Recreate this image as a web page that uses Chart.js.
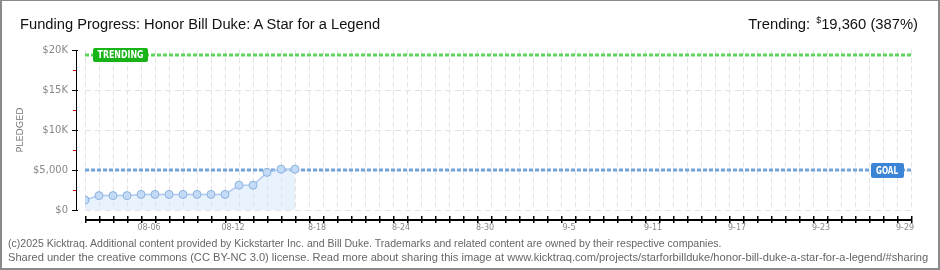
<!DOCTYPE html>
<html>
<head>
<meta charset="utf-8">
<script src="https://cdn.jsdelivr.net/npm/chart.js@4.4.1/dist/chart.umd.min.js"></script>
<style>
  html, body { margin:0; padding:0; background:#fff; }
  #wrap { position:relative; width:940px; height:270px; overflow:hidden; background:#fff; }
  #c { position:absolute; left:0; top:0; }
  #frame { position:absolute; left:0; top:0; width:940px; height:270px; box-sizing:border-box;
           border-style:solid; border-color:#8a8a8a; border-width:1px 2px 2px 2px; pointer-events:none; }
  .t { position:absolute; white-space:nowrap; line-height:1; }
  #title { left:20px; top:17px; font-family:"Liberation Sans Narrow", sans-serif; font-size:16.5px; color:#111; }
  #trend { right:22px; top:17px; font-family:"Liberation Sans Narrow", sans-serif; font-size:16.5px; color:#111; }
  #trend sup { font-size:0.6em; vertical-align:0; position:relative; top:-6px; margin-left:6px; }
  .foot { left:8px; font-family:"Liberation Sans Narrow", sans-serif; font-size:11px; color:#666; }
  #f1 { top:238px; }
  #f2 { top:252px; }
</style>
</head>
<body>
<div id="wrap">
  <canvas id="c" width="940" height="270"></canvas>
  <div id="title" class="t">Funding Progress: Honor Bill Duke: A Star for a Legend</div>
  <div id="trend" class="t">Trending:<sup>$</sup>19,360 (387%)</div>
  <div id="f1" class="t foot">(c)2025 Kicktraq. Additional content provided by Kickstarter Inc. and Bill Duke. Trademarks and related content are owned by their respective companies.</div>
  <div id="f2" class="t foot">Shared under the creative commons (CC BY-NC 3.0) license. Read more about sharing this image at www.kicktraq.com/projects/starforbillduke/honor-bill-duke-a-star-for-a-legend/#sharing</div>
  <div id="frame"></div>
</div>
<script>
// ---- data ----
const startDate = '08-01';              // day index 0
const lastDay = 59;                     // 09-29
const pledgedDays = [0,1,2,3,4,5,6,7,8,9,10,11,12,13,14,15];
const pledgedValues = [1250,1800,1800,1800,1950,1950,1950,1950,1950,1950,1950,3100,3100,4700,5100,5100];
const goalValue = 5000;
const trendingValue = 19360;
const xTickDays = [5,11,17,23,29,35,41,47,53,59];
const xTickLabels = ['08-06','08-12','8-18','8-24','8-30','9-5','9-11','9-17','9-23','9-29'];
const yTickValues = [0,5000,10000,15000,20000];
const yTickLabels = ['$0','$5,000','$10K','$15K','$20K'];
const yMinorValues = [2500,7500,12500,17500];

// fit text widths
function fit(id, target){
  const el = document.getElementById(id);
  const w = el.getBoundingClientRect().width;
  const fs = parseFloat(getComputedStyle(el).fontSize);
  el.style.fontSize = (fs*target/w).toFixed(2)+'px';
}
fit('title', 360);
fit('trend', 169);
fit('f1', 714);
fit('f2', 920);

const allDays = Array.from({length:lastDay+1}, (_,i)=>i);

function fittedText(ctx, text, cx, cy, targetW){
  const w = ctx.measureText(text).width;
  ctx.save();
  ctx.translate(cx, cy);
  ctx.scale(targetW/w, 1);
  ctx.fillText(text, 0, 0);
  ctx.restore();
}

const axesPlugin = {
  id:'axesPlugin',
  afterDatasetsDraw(chart){
    const {ctx, chartArea:a, scales:{x,y}} = chart;
    ctx.save();
    // y axis
    const yx = a.left - 9;
    ctx.fillStyle = '#000';
    ctx.fillRect(yx, Math.round(y.getPixelForValue(20000)), 1, Math.round(y.getPixelForValue(0)-y.getPixelForValue(20000))+1);
    yTickValues.forEach(v=>{ ctx.fillRect(yx-4, Math.round(y.getPixelForValue(v)), 6, 1); });
    ctx.fillStyle = '#e00000';
    yMinorValues.forEach(v=>{ ctx.fillRect(yx-3, Math.round(y.getPixelForValue(v)), 3, 1); });
    // x axis
    ctx.fillStyle = '#000';
    const ay = a.bottom + 9;
    ctx.fillRect(Math.round(x.getPixelForValue(0)), ay, Math.round(x.getPixelForValue(lastDay)-x.getPixelForValue(0))+1, 2);
    allDays.forEach(d=>{ ctx.fillRect(Math.round(x.getPixelForValue(d)), ay-3, 1.5, 7); });

    // trending label
    const ty = y.getPixelForValue(trendingValue);
    ctx.fillStyle = '#17b317';
    ctx.beginPath(); ctx.roundRect(a.left+8, ty-7, 55, 14, 2); ctx.fill();
    ctx.fillStyle = '#fff';
    ctx.font = 'bold 10px "DejaVu Sans Condensed", sans-serif';
    ctx.textAlign = 'center'; ctx.textBaseline = 'middle';
    fittedText(ctx, 'TRENDING', a.left+8+27.5, ty+0.5, 46);
    // goal label
    const gy = y.getPixelForValue(goalValue);
    ctx.fillStyle = '#3b84d6';
    ctx.beginPath(); ctx.roundRect(a.right-40, gy-7, 33, 15, 2); ctx.fill();
    ctx.fillStyle = '#fff';
    fittedText(ctx, 'GOAL', a.right-40+16, gy+1, 22);
    ctx.restore();
  }
};

const gridColor = '#e3e3e3';
new Chart(document.getElementById('c'), {
  type:'line',
  data:{
    datasets:[
      { label:'Pledged', data: pledgedDays.map((d,i)=>({x:d, y:pledgedValues[i]})),
        borderColor:'#abcaee', borderWidth:1.5, fill:'origin', backgroundColor:'rgba(214,231,251,0.55)',
        pointRadius:4, pointBackgroundColor:'#c3dbf6', pointBorderColor:'#8eb1de', pointBorderWidth:1,
        tension:0, order:0 },
      { label:'Goal', data:[{x:0,y:goalValue},{x:lastDay,y:goalValue}],
        borderColor:'#72a3dc', borderWidth:3, borderDash:[4,2], pointRadius:0, fill:false, order:2 },
      { label:'Trending', data:[{x:0,y:trendingValue},{x:lastDay,y:trendingValue}],
        borderColor:'#5ed35e', borderWidth:3, borderDash:[4,2], pointRadius:0, fill:false, order:2 }
    ]
  },
  options:{
    responsive:false, animation:false, devicePixelRatio:1,
    layout:{ padding:{ left:5, right:29, top:50, bottom:30 } },
    plugins:{ legend:{display:false}, tooltip:{enabled:false} },
    scales:{
      x:{ type:'linear', min:0, max:lastDay,
          afterBuildTicks: s => { s.ticks = allDays.map(v=>({value:v})); },
          afterFit: s => { s.height = 30; },
          ticks:{ autoSkip:false, maxRotation:0, padding:13, labelOffset:-6, color:'#888',
                  font:{ family:'"DejaVu Sans", sans-serif', size:8 },
                  callback: v => { const i = xTickDays.indexOf(v); return i>=0 ? xTickLabels[i] : ''; } },
          grid:{ color:gridColor, drawTicks:false, lineWidth:1 },
          border:{ display:false, dash:[5,3] } },
      y:{ min:0, max:20000,
          afterBuildTicks: s => { s.ticks = yTickValues.map(v=>({value:v})); },
          afterFit: s => { s.width = 80; },
          ticks:{ padding:17, color:'#888', font:{ family:'"DejaVu Sans", sans-serif', size:10 },
                  callback: v => { const i = yTickValues.indexOf(v); return i>=0 ? yTickLabels[i] : ''; } },
          grid:{ color: c => (c.tick && c.tick.value===20000) ? 'rgba(0,0,0,0)' : gridColor, drawTicks:false, lineWidth:1 },
          border:{ display:false, dash:[6,4] },
          title:{ display:true, text:'PLEDGED', color:'#777', padding:10,
                  font:{ family:'"DejaVu Sans", sans-serif', size:9.5 } } }
    }
  },
  plugins:[axesPlugin]
});
</script>
</body>
</html>
